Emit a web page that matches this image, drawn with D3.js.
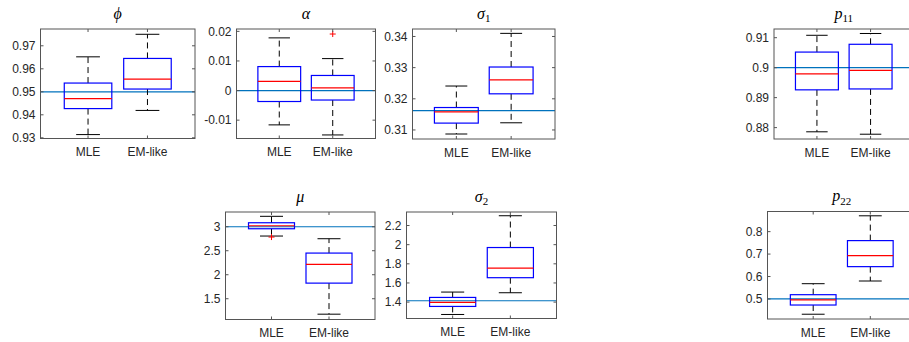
<!DOCTYPE html>
<html>
<head>
<meta charset="utf-8">
<script src="https://cdn.jsdelivr.net/npm/d3@7"></script>
<style>
  html, body { margin: 0; padding: 0; background: #fff; }
  svg { display: block; }
</style>
</head>
<body>
<svg id="chart" width="909" height="342"></svg>
<script>
// Estimator names (x categories)
const methods = ["MLE", "EM-like"];

// Parameters: title symbol and subscript
const paramSymbols = ["\u03d5", "\u03b1", "\u03c3", "p", "\u03bc", "\u03c3", "p"];
const paramSubs    = ["", "", "1", "11", "", "2", "22"];

// True parameter values (horizontal reference lines)
const trueValues = [0.95, 0, Math.sqrt(0.1), 0.9, 3, Math.sqrt(2), 0.5];

// Box statistics: [lower whisker, Q1, median, Q3, upper whisker]
const mleStats = [
  [0.9314, 0.9427, 0.9470, 0.9538, 0.9652],
  [-0.0116, -0.0037, 0.0031, 0.0081, 0.0178],
  [0.3087, 0.3122, 0.3158, 0.3172, 0.3241],
  [0.8786, 0.8926, 0.8979, 0.9052, 0.9108],
  [2.806, 2.958, 3.020, 3.083, 3.217],
  [1.271, 1.355, 1.397, 1.449, 1.505],
  [0.432, 0.473, 0.4955, 0.519, 0.568]
];
const emStats = [
  [0.9419, 0.9512, 0.9555, 0.9645, 0.9750],
  [-0.0150, -0.0032, 0.0009, 0.0051, 0.0108],
  [0.3123, 0.3216, 0.3261, 0.3302, 0.3410],
  [0.8778, 0.8929, 0.8991, 0.9078, 0.9114],
  [1.178, 1.825, 2.215, 2.451, 2.750],
  [1.498, 1.655, 1.754, 1.970, 2.302],
  [0.580, 0.644, 0.693, 0.760, 0.8705]
];

// Outliers: [panel index, method index, value]
const outliers = [
  [1, 1, 0.0191],
  [4, 0, 2.785]
];

// Axis limits and tick labels
const yLimits = [
  [0.9297, 0.9773],
  [-0.0162, 0.0208],
  [0.3071, 0.3424],
  [0.8762, 0.9129],
  [1.067, 3.307],
  [1.229, 2.341],
  [0.4107, 0.8897]
];
const yTickLabels = [
  ["0.93", "0.94", "0.95", "0.96", "0.97"],
  ["-0.01", "0", "0.01", "0.02"],
  ["0.31", "0.32", "0.33", "0.34"],
  ["0.88", "0.89", "0.9", "0.91"],
  ["1.5", "2", "2.5", "3"],
  ["1.4", "1.6", "1.8", "2", "2.2"],
  ["0.5", "0.6", "0.7", "0.8"]
];

// Axes rectangles on the page
const frames = [
  {x0: 40.5,  x1: 195,   y0: 29,    y1: 138.5},
  {x0: 236.5, x1: 375.5, y0: 29,    y1: 138.5},
  {x0: 412.5, x1: 555,   y0: 29,    y1: 139},
  {x0: 774,   x1: 913.5, y0: 29,    y1: 139},
  {x0: 225.5, x1: 375,   y0: 212,   y1: 319.5},
  {x0: 406.5, x1: 556.5, y0: 212,   y1: 318.5},
  {x0: 767.5, x1: 916,   y0: 211.5, y1: 319}
];

const svg = d3.select("#chart");
const axisColor = "#555";
const textColor = "#262626";
const boxWidth = 0.8;   // in x-axis units
const tickLen = 3;

frames.forEach((f, i) => {
  const g = svg.append("g");
  const x = d3.scaleLinear().domain([0.2, 2.8]).range([f.x0, f.x1]);
  const y = d3.scaleLinear().domain(yLimits[i]).range([f.y1, f.y0]);

  // Reference line for the true value
  g.append("line")
    .attr("x1", f.x0).attr("x2", f.x1)
    .attr("y1", y(trueValues[i])).attr("y2", y(trueValues[i]))
    .attr("stroke", "#0072BD").attr("stroke-width", 1.2);

  // Boxes
  [mleStats[i], emStats[i]].forEach((s, k) => {
    const cx = x(k + 1);
    const half = (x(boxWidth) - x(0)) / 2;
    const capHalf = half / 2;
    const [lo, q1, med, q3, hi] = s;
    // whiskers
    g.append("line")
      .attr("x1", cx).attr("x2", cx).attr("y1", y(q3)).attr("y2", y(hi))
      .attr("stroke", "#000").attr("stroke-width", 1).attr("stroke-dasharray", "6,4");
    g.append("line")
      .attr("x1", cx).attr("x2", cx).attr("y1", y(q1)).attr("y2", y(lo))
      .attr("stroke", "#000").attr("stroke-width", 1).attr("stroke-dasharray", "6,4");
    // caps
    [lo, hi].forEach(v => {
      g.append("line")
        .attr("x1", cx - capHalf).attr("x2", cx + capHalf)
        .attr("y1", y(v)).attr("y2", y(v))
        .attr("stroke", "#000").attr("stroke-width", 1);
    });
    // box
    g.append("rect")
      .attr("x", cx - half).attr("y", y(q3))
      .attr("width", 2 * half).attr("height", y(q1) - y(q3))
      .attr("fill", "none").attr("stroke", "#0000ff").attr("stroke-width", 1.2);
    // median
    g.append("line")
      .attr("x1", cx - half).attr("x2", cx + half)
      .attr("y1", y(med)).attr("y2", y(med))
      .attr("stroke", "#ff0000").attr("stroke-width", 1.2);
  });

  // Outlier markers
  outliers.filter(o => o[0] === i).forEach(o => {
    const cx = x(o[1] + 1), cy = y(o[2]);
    g.append("path")
      .attr("d", `M${cx - 3},${cy}H${cx + 3}M${cx},${cy - 3}V${cy + 3}`)
      .attr("stroke", "#ff0000").attr("stroke-width", 1);
  });

  // Axes box
  g.append("rect")
    .attr("x", f.x0).attr("y", f.y0)
    .attr("width", f.x1 - f.x0).attr("height", f.y1 - f.y0)
    .attr("fill", "none").attr("stroke", axisColor).attr("stroke-width", 1);

  // Y ticks (inside, both sides) and labels
  yTickLabels[i].forEach(lbl => {
    const ty = y(parseFloat(lbl));
    g.append("line").attr("x1", f.x0).attr("x2", f.x0 + tickLen)
      .attr("y1", ty).attr("y2", ty).attr("stroke", axisColor);
    g.append("line").attr("x1", f.x1).attr("x2", f.x1 - tickLen)
      .attr("y1", ty).attr("y2", ty).attr("stroke", axisColor);
    g.append("text")
      .attr("x", f.x0 - 5).attr("y", ty)
      .attr("dy", "0.35em")
      .attr("text-anchor", "end")
      .attr("font-family", "Liberation Sans, Arial, sans-serif")
      .attr("font-size", 12)
      .attr("fill", textColor)
      .text(lbl);
  });

  // X ticks and category labels
  methods.forEach((m, k) => {
    const tx = x(k + 1);
    g.append("line").attr("x1", tx).attr("x2", tx)
      .attr("y1", f.y1).attr("y2", f.y1 - tickLen).attr("stroke", axisColor);
    g.append("line").attr("x1", tx).attr("x2", tx)
      .attr("y1", f.y0).attr("y2", f.y0 + tickLen).attr("stroke", axisColor);
    g.append("text")
      .attr("x", tx).attr("y", f.y1 + 17.5)
      .attr("text-anchor", "middle")
      .attr("font-family", "Liberation Sans, Arial, sans-serif")
      .attr("font-size", 12)
      .attr("fill", textColor)
      .text(m);
  });

  // Title
  const t = g.append("text")
    .attr("x", (f.x0 + Math.min(f.x1, 909 + (f.x1 - 909))) / 2)
    .attr("y", f.y0 - 10.5)
    .attr("text-anchor", "middle")
    .attr("font-family", "Liberation Serif, Times New Roman, serif")
    .attr("font-size", 16)
    .attr("fill", "#000");
  t.append("tspan").attr("font-style", "italic").text(paramSymbols[i]);
  if (paramSubs[i]) {
    t.append("tspan").attr("font-size", 11).attr("dy", 3.5).text(paramSubs[i]);
  }
});
</script>
</body>
</html>
